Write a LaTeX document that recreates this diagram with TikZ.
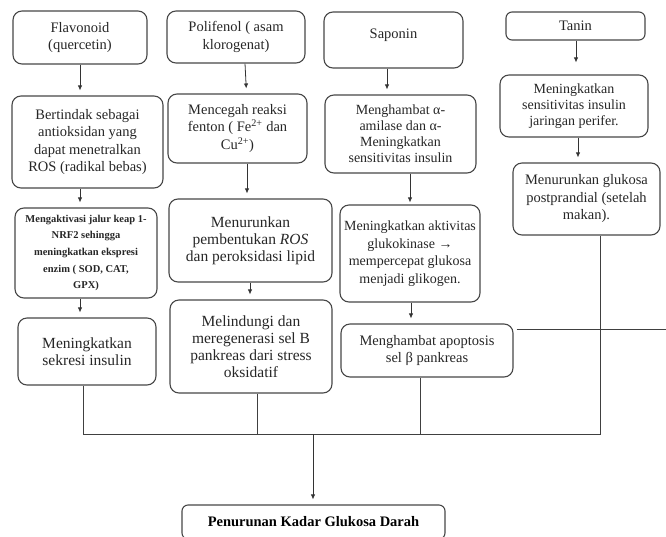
\documentclass[tikz,border=0pt]{standalone}
\usepackage{fontspec}
\setmainfont{Liberation Serif}
\usetikzlibrary{arrows.meta}
\begin{document}
\begin{tikzpicture}[x=1pt,y=-1pt,
  box/.style={draw=black!72, line width=1.1pt, rounded corners=9pt, align=center,
    inner sep=0pt, text=black!85, font=\fontsize{14.5}{17.5}\selectfont},
  mid/.style={font=\fontsize{14}{16}\selectfont},
  big/.style={font=\fontsize{15.5}{17}\selectfont},
  small/.style={font=\fontsize{10.5}{16.7}\selectfont\bfseries},
  arr/.style={draw=black!80, line width=0.8pt, -{Latex[length=5pt,width=4.5pt]}, shorten >=5pt},
  ln/.style={draw=black!75, line width=1pt}]
\useasboundingbox (0,0) rectangle (666,536);

% row 1
\node[box, minimum width=134pt, minimum height=53pt] (F1) at (80,37.5) {Flavonoid\\(quercetin)};
\node[box, minimum width=138pt, minimum height=52pt] (P1) at (236,37) {Polifenol ( asam\\klorogenat)};
\node[box, minimum width=139pt, minimum height=56pt, text depth=12pt] (S1) at (393.5,40) {Saponin};
\node[box, rounded corners=6pt, minimum width=139pt, minimum height=28pt] (T1) at (575.5,26) {Tanin};

% row 2
\node[box, minimum width=151pt, minimum height=92pt] (F2) at (87.5,142)
  {Bertindak sebagai\\antioksidan yang\\dapat menetralkan\\ROS (radikal bebas)};
\node[box, minimum width=139pt, minimum height=69pt] (P2) at (237.5,128.5)
  {Mencegah reaksi\\fenton ( Fe\textsuperscript{2+} dan\\Cu\textsuperscript{2+})};
\node[box, mid, minimum width=151pt, minimum height=78pt] (S2) at (400.5,134)
  {Menghambat α-\\amilase dan α-\\Meningkatkan\\sensitivitas insulin};
\node[box, mid, minimum width=148pt, minimum height=62pt] (T2) at (574,106)
  {Meningkatkan\\sensitivitas insulin\\jaringan perifer.};

% row 3
\node[box, small, minimum width=142pt, minimum height=90pt] (F3) at (86,253)
  {Mengaktivasi jalur keap 1-\\NRF2 sehingga\\meningkatkan ekspresi\\enzim ( SOD, CAT,\\GPX)};
\node[box, big, minimum width=163pt, minimum height=83pt] (P3) at (250.5,240.5)
  {Menurunkan\\pembentukan \textit{ROS}\\dan peroksidasi lipid};
\node[box, font=\fontsize{14}{17.5}\selectfont, minimum width=140pt, minimum height=97pt] (S3) at (410,253.5)
  {Meningkatkan aktivitas\\glukokinase →\\mempercepat glukosa\\menjadi glikogen.};
\node[box, minimum width=147pt, minimum height=72pt] (T3) at (586.5,199)
  {Menurunkan glukosa\\postprandial (setelah\\makan).};

% row 4
\node[box, big, minimum width=138pt, minimum height=67pt] (F4) at (87,351.5)
  {Meningkatkan\\sekresi insulin};
\node[box, big, minimum width=162pt, minimum height=93pt] (P4) at (251,346.5)
  {Melindungi dan\\meregenerasi sel B\\pankreas dari stress\\oksidatif};
\node[box, minimum width=172pt, minimum height=53pt] (S4) at (427,350.5)
  {Menghambat apoptosis\\sel β pankreas};

% final
\node[box, rounded corners=6pt, font=\fontsize{14.5}{17}\selectfont\bfseries, text=black,
  minimum width=263pt, minimum height=34pt] (Fin) at (313.5,522)
  {Penurunan Kadar Glukosa Darah};

% arrows within columns
\draw[arr] (F1.south) -- ([xshift=-7.5pt]F2.north);
\draw[arr] ([xshift=-7.5pt]F2.south) -- ([xshift=-6pt]F3.north);
\draw[arr] ([xshift=-6pt]F3.south) -- ([xshift=-7pt]F4.north);
\draw[arr] ([xshift=9pt]P1.south) -- ([xshift=9pt]P2.north);
\draw[arr] ([xshift=9.5pt]P2.south) -- ([xshift=-3.5pt]P3.north);
\draw[arr] ([xshift=-0.5pt]P3.south) -- ([xshift=-1pt]P4.north);
\draw[arr] ([xshift=-6.5pt]S1.south) -- ([xshift=-13.5pt]S2.north);
\draw[arr, shorten >=2pt] ([xshift=9.5pt]S2.south) -- (S3.north);
\draw[arr] ([xshift=1pt]S3.south) -- ([xshift=-16pt]S4.north);
\draw[arr, shorten >=12pt] ([xshift=0.5pt]T1.south) -- ([xshift=2pt]T2.north);
\draw[arr] ([xshift=4pt]T2.south) -- ([xshift=-8.5pt]T3.north);

% collecting bus
\coordinate (bF) at (83,434);
\coordinate (bP) at (257,434);
\coordinate (bS) at (420,434);
\coordinate (bT) at (600,434);
\coordinate (bJ) at (313,434);
\coordinate (eR) at (666,329);
\draw[ln] (F4.south -| bF) -- (bF) -- (bT) -- (T3.south -| bT);
\draw[ln] (P4.south -| bP) -- (bP);
\draw[ln] (S4.south -| bS) -- (bS);
\draw[ln] ([xshift=3pt]S4.east |- eR) -- (eR);
\draw[arr] (bJ) -- (Fin.north -| bJ);
\end{tikzpicture}
\end{document}
